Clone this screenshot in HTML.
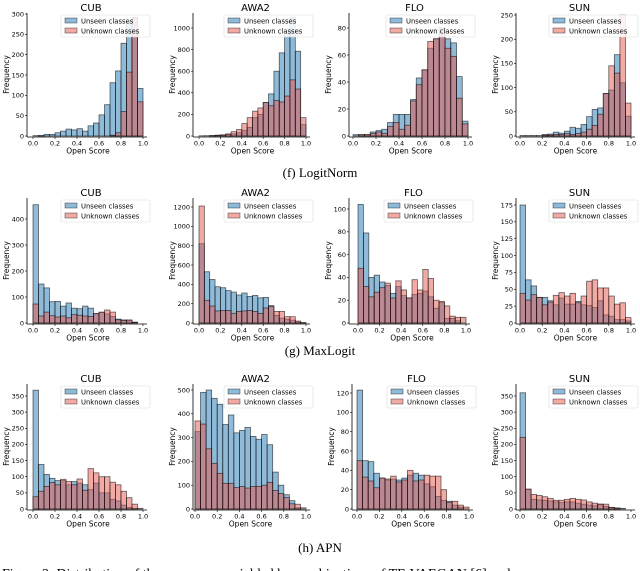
<!DOCTYPE html>
<html><head><meta charset="utf-8"><style>
html,body{margin:0;padding:0;background:#fff;}
svg{display:block;}
text{font-family:"DejaVu Sans","Liberation Sans",sans-serif;}
.cap{font-family:"Liberation Serif",serif;}
</style></head><body>
<svg id="fig" width="640" height="571" viewBox="0 0 640 571" xmlns="http://www.w3.org/2000/svg"></svg>
<script>
const bins = ["0.00","0.05","0.10","0.15","0.20","0.25","0.30","0.35","0.40","0.45","0.50","0.55","0.60","0.65","0.70","0.75","0.80","0.85","0.90","0.95"];
const xTickLabels = ["0.0","0.2","0.4","0.6","0.8","1.0"];
const seriesNames = ["Unseen classes","Unknown classes"];
// LogitNorm
const lnCubUnseen = [1,1,4,4,8,12,17,15,18,12,25,32,52,77,131,160,228,280,292,117];
const lnCubUnknown = [0,1,0,0,0,0,0,0,0,0,0,0,0,0,2,8,60,157,290,84];
const lnAwaUnseen = [2,3,5,8,10,15,20,30,50,80,170,200,310,390,600,770,950,1100,785,105];
const lnAwaUnknown = [0,0,2,5,10,20,40,60,115,170,230,260,310,280,330,315,370,520,435,170];
const lnFloUnseen = [1,1,1,3,4,5,10,16,16,16,27,43,49,65,72,80,72,69,44,11];
const lnFloUnknown = [0,1,1,2,3,2,7,10,5,8,26,38,49,70,72,80,65,59,28,9];
const lnSunUnseen = [1,1,1,1,3,4,8,6,10,18,16,24,40,55,58,88,95,168,110,41];
const lnSunUnknown = [0,0,0,0,2,2,3,3,5,3,5,8,14,22,45,88,145,130,250,68];
// MaxLogit
const mlCubUnseen = [455,150,135,82,83,65,77,57,55,65,57,35,40,35,25,15,12,10,3,0];
const mlCubUnknown = [73,27,42,28,23,27,20,32,30,27,25,37,42,50,42,12,10,12,3,0];
const mlAwaUnseen = [820,530,450,375,365,335,320,290,310,275,285,260,265,180,80,50,40,30,10,2];
const mlAwaUnknown = [1210,235,175,125,130,130,100,120,125,130,120,100,155,170,120,120,65,65,20,5];
const mlFloUnseen = [104,79,40,42,36,33,26,32,24,22,25,26,28,23,13,18,4,4,2,0];
const mlFloUnknown = [48,32,23,27,31,35,22,37,29,22,38,29,47,39,20,19,15,6,5,5];
const mlSunUnseen = [175,64,55,38,38,33,27,37,28,28,32,27,26,23,33,12,10,5,5,3];
const mlSunUnknown = [44,34,42,38,27,31,41,45,40,44,30,40,62,64,52,52,40,28,30,8];
// APN
const apCubUnseen = [368,138,107,95,88,88,75,85,80,75,60,80,50,50,30,25,12,5,2,0];
const apCubUnknown = [38,55,70,82,75,92,85,75,93,58,125,112,100,100,83,75,55,35,15,2];
const apAwaUnseen = [325,490,500,465,440,355,395,320,330,343,305,293,313,270,155,100,60,35,5,0];
const apAwaUnknown = [370,357,253,192,150,108,108,90,95,88,95,95,100,112,78,65,48,22,20,5];
const apFloUnseen = [123,50,49,37,32,30,31,30,32,35,37,35,26,23,13,9,8,4,2,0];
const apFloUnknown = [50,33,29,22,32,31,34,28,30,40,29,30,35,34,34,20,7,8,4,2];
const apSunUnseen = [360,60,30,28,27,25,22,20,22,22,18,15,12,10,15,8,5,3,2,0];
const apSunUnknown = [222,62,45,42,38,33,27,27,30,33,30,28,22,18,15,15,5,3,0,0];
// y tick labels
const ticksLnCub=[0,50,100,150,200,250,300], ticksLnAwa=[0,200,400,600,800,1000], ticksLnFlo=[0,20,40,60,80], ticksLnSun=[0,50,100,150,200,250];
const ticksMlCub=[0,100,200,300,400], ticksMlAwa=[0,200,400,600,800,1000,1200], ticksMlFlo=[0,20,40,60,80,100], ticksMlSun=[0,25,50,75,100,125,150,175];
const ticksApCub=[0,50,100,150,200,250,300,350], ticksApAwa=[0,100,200,300,400,500], ticksApFlo=[0,20,40,60,80,100,120], ticksApSun=[0,50,100,150,200,250,300,350];

const NS="http://www.w3.org/2000/svg";
const svg=document.getElementById('fig');
function mk(tag,attrs,parent,txt){const e=document.createElementNS(NS,tag);for(const k in attrs)e.setAttribute(k,attrs[k]);if(txt!==undefined)e.textContent=txt;(parent||svg).appendChild(e);return e;}

function panel(title,key,spineX,x0,x1,y0,topY,vTop,pTop,ticks,unseen,unknown){
  const g=mk('g',{});
  
  
  const sy=(y0-pTop)/vTop;
  const Y=v=>y0-v*sy;
  const X=v=>x0+v*(x1-x0);
  const bw=(x1-x0)/bins.length;
  const t=mk('text',{x:(spineX+x1)/2+6,y:topY-2,'font-size':10,'text-anchor':'middle',fill:'#000'},g,title);
  
  
  [[unseen,'rgba(31,119,180,0.5)','unseen'],[unknown,'rgba(230,85,75,0.5)','unknown']].forEach(([arr,col,nm])=>{
    arr.forEach((v,i)=>{
      const r=mk('rect',{x:X(parseFloat(bins[i])),y:Y(v),width:bw,height:Math.max(0,v*sy),fill:col,stroke:'rgba(0,0,0,0.6)','stroke-width':0.8},g);
      
      
    });
  });
  mk('line',{x1:spineX,y1:topY,x2:spineX,y2:y0+1,stroke:'#000','stroke-width':0.8},g);
  mk('line',{x1:spineX,y1:y0+1,x2:x1+4,y2:y0+1,stroke:'#000','stroke-width':0.8},g);
  ticks.forEach(v=>{
    mk('line',{x1:spineX-2,y1:Y(v),x2:spineX,y2:Y(v),stroke:'#000','stroke-width':0.6},g);
    const l=mk('text',{x:spineX-3,y:Y(v)+2.3,'font-size':6.5,'text-anchor':'end',fill:'#000'},g,String(v));
    
    
  });
  xTickLabels.forEach(s=>{
    const xv=X(parseFloat(s));
    mk('line',{x1:xv,y1:y0+1,x2:xv,y2:y0+3,stroke:'#000','stroke-width':0.6},g);
    const l=mk('text',{x:xv,y:y0+9.5,'font-size':6.5,'text-anchor':'middle',fill:'#000'},g,s);
    
    
  });
  const xl=mk('text',{x:(x0+x1)/2,y:y0+17.5,'font-size':7.5,'text-anchor':'middle',fill:'#000'},g,'Open Score');
  
  
  const yl=mk('text',{x:0,y:0,'font-size':7.5,'text-anchor':'middle',fill:'#000',transform:`translate(${spineX-18},${(topY+y0)/2}) rotate(-90)`},g,'Frequency');
  
  
  const lx=x1+7-89, ly=topY+2;
  const lg=mk('g',{},g);
  
  
  mk('rect',{x:lx,y:ly,width:89,height:22,fill:'rgba(255,255,255,0.85)',stroke:'#ddd','stroke-width':0.6,rx:1.5},lg);
  const cols=['rgba(31,119,180,0.5)','rgba(230,85,75,0.5)'];
  seriesNames.forEach((n,i)=>{
    mk('rect',{x:lx+4,y:ly+3+i*10,width:12,height:5,fill:cols[i],stroke:'rgba(0,0,0,0.6)','stroke-width':0.6},lg);
    const e=mk('text',{x:lx+20,y:ly+8.7+i*10,'font-size':6.8,fill:'#000'},lg,n);
    
    
  });
}
// row 1
panel('CUB','logitnorm-cub',27,33,143,136,13,300,14,ticksLnCub,lnCubUnseen,lnCubUnknown);
panel('AWA2','logitnorm-awa2',193,199,306,136,13,1000,28,ticksLnAwa,lnAwaUnseen,lnAwaUnknown);
panel('FLO','logitnorm-flo',349,353,468,136,13,80,28,ticksLnFlo,lnFloUnseen,lnFloUnknown);
panel('SUN','logitnorm-sun',516,520,631,136,13,250,15,ticksLnSun,lnSunUnseen,lnSunUnknown);
// row 2
panel('CUB','maxlogit-cub',27,33,143,323,198,400,219,ticksMlCub,mlCubUnseen,mlCubUnknown);
panel('AWA2','maxlogit-awa2',193,199,306,323,198,1200,207,ticksMlAwa,mlAwaUnseen,mlAwaUnknown);
panel('FLO','maxlogit-flo',349,358,466,323,198,100,209,ticksMlFlo,mlFloUnseen,mlFloUnknown);
panel('SUN','maxlogit-sun',516,520,631,323,198,175,205,ticksMlSun,mlSunUnseen,mlSunUnknown);
// row 3
panel('CUB','apn-cub',27,33,143,509,384,350,396,ticksApCub,apCubUnseen,apCubUnknown);
panel('AWA2','apn-awa2',193,195,306,509,384,500,390,ticksApAwa,apAwaUnseen,apAwaUnknown);
panel('FLO','apn-flo',352,357,469,509,384,120,393,ticksApFlo,apFloUnseen,apFloUnknown);
panel('SUN','apn-sun',516,520,631,509,384,350,396,ticksApSun,apSunUnseen,apSunUnknown);

[['(f) LogitNorm',177,'caption-logitnorm'],['(g) MaxLogit',355,'caption-maxlogit'],['(h) APN',552,'caption-apn']].forEach(([s,y,n])=>{
  const c=mk('text',{x:320,y:y,'font-size':13,'text-anchor':'middle',fill:'#000',class:'cap'},svg,s);
  
  
});
const fc=mk('text',{x:2,y:578,'font-size':14,fill:'#000',class:'cap'},svg,'Figure 2:  Distribution of the open scores yielded by combinations of TF-VAEGAN [6] and');


</script>
</body></html>
